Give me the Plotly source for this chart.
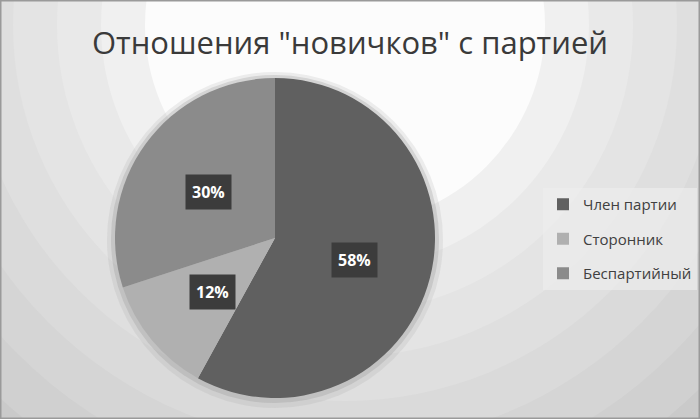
import math
import plotly.graph_objects as go

# === Chart data ===
title_text = 'Отношения "новичков" с партией'
labels = ["Член партии", "Сторонник", "Беспартийный"]
values = [58, 12, 30]
slice_colors = ["#606060", "#b0b0b0", "#8b8b8b"]

W, H = 700, 419
FONT = "Open Sans"

# pie placement in pixels (center + radius)
cx, cy, rad = 275, 238, 160
domain_x = [(cx - rad) / W, (cx + rad) / W]
domain_y = [1 - (cy + rad) / H, 1 - (cy - rad) / H]


def px_circle(x, y, r, color):
    # circle given in pixels -> paper coords (margins are zero)
    return dict(type="circle", xref="paper", yref="paper",
                x0=(x - r) / W, x1=(x + r) / W,
                y0=1 - (y + r) / H, y1=1 - (y - r) / H,
                fillcolor=color, line=dict(width=0), layer="below")


# === Background: banded radial gradient ===
shapes = []
ring_grays = [0xbe, 0xc4, 0xca, 0xd0, 0xd5, 0xda, 0xdf, 0xe4, 0xe9, 0xf0, 0xfc]
gx, gy = 345, 25
r0 = 200 + 44 * (len(ring_grays) - 1)
for i, g in enumerate(ring_grays):
    shapes.append(px_circle(gx, gy, r0 - 44 * i, f"rgb({g},{g},{g})"))

# soft shadow around the pie
shapes.append(px_circle(cx, cy + 2, rad + 8, "rgba(150,150,150,0.15)"))
shapes.append(px_circle(cx, cy + 1, rad + 4, "rgba(140,140,140,0.25)"))

# outer frame
shapes.append(dict(type="rect", xref="paper", yref="paper", x0=0, x1=1, y0=0, y1=1,
                   line=dict(color="#9a9a9a", width=3), fillcolor="rgba(0,0,0,0)", layer="above"))

fig = go.Figure()
fig.add_trace(go.Pie(
    labels=labels, values=values,
    marker=dict(colors=slice_colors, line=dict(width=0)),
    sort=False, direction="clockwise", rotation=0,
    textinfo="none", hoverinfo="label+percent",
    domain=dict(x=domain_x, y=domain_y),
    showlegend=False,
))

# legend entries (own groups so they can be spaced like the original)
for lab, col in zip(labels, slice_colors):
    fig.add_trace(go.Scatter(
        x=[None], y=[None], mode="markers", name=lab, legendgroup=lab,
        marker=dict(symbol="square", size=10, color=col),
        hoverinfo="skip",
    ))

# percentage labels in dark boxes, placed at the middle of each slice
annotations = []
total = sum(values)
acc = 0
for v in values:
    mid = (acc + v / 2) / total * 2 * math.pi
    acc += v
    lx = cx + 0.51 * rad * math.sin(mid)
    ly = cy + 2 - 0.51 * rad * math.cos(mid)
    annotations.append(dict(
        x=lx / W, y=1 - ly / H, xref="paper", yref="paper",
        xanchor="center", yanchor="middle",
        text=f"<b>{round(v / total * 100)}%</b>", showarrow=False,
        font=dict(family=FONT, size=16, color="white"),
        bgcolor="#3c3c3c", borderpad=6,
    ))

fig.update_layout(
    width=W, height=H,
    margin=dict(l=0, r=0, t=0, b=0),
    paper_bgcolor="#ffffff",
    plot_bgcolor="rgba(0,0,0,0)",
    xaxis=dict(visible=False), yaxis=dict(visible=False),
    title=dict(text=title_text, x=0.5, xanchor="center", y=1 - 43 / H, yanchor="middle",
               font=dict(family=FONT, size=31, color="#3a3a3a")),
    showlegend=True,
    legend=dict(x=543 / W, y=1 - 239 / H, xanchor="left", yanchor="middle",
                bgcolor="rgba(236,236,236,0.7)", tracegroupgap=12,
                itemsizing="constant", itemwidth=30,
                font=dict(family=FONT, size=15, color="#404040")),
    shapes=shapes,
    annotations=annotations,
)

fig.write_html("out.html", config={"displayModeBar": False},
               post_script="document.body.style.margin='0';")
